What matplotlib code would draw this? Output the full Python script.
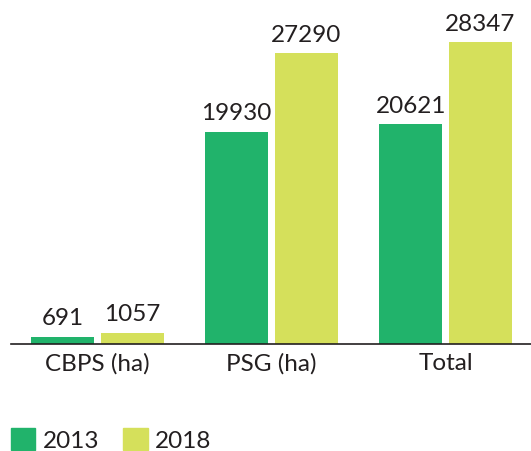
import matplotlib.pyplot as plt
import numpy as np
from matplotlib.patches import Patch

plt.rcParams['font.family'] = ['Lato', 'DejaVu Sans']

categories = ['CBPS (ha)', 'PSG (ha)', 'Total']
years = ['2013', '2018']
values_2013 = [691, 19930, 20621]
values_2018 = [1057, 27290, 28347]
colors = ['#21B36B', '#D5E05B']
text_color = '#231F20'

fig = plt.figure(figsize=(5.31, 4.52), dpi=100)
ax = fig.add_axes([11 / 531, 107 / 452, 520 / 531, 345 / 452])

x = np.arange(len(categories))
w = 0.362
off = 0.2
b1 = ax.bar(x - off, values_2013, w, color=colors[0])
b2 = ax.bar(x + off, values_2018, w, color=colors[1])

for bars in (b1, b2):
    ax.bar_label(bars, labels=[str(v) for v in bars.datavalues], padding=6,
                 fontsize=17.5, color=text_color)

ax.set_xlim(-0.497, 2.491)
ax.set_ylim(0, 32400)
ax.set_xticks(x)
ax.set_xticklabels(categories, fontsize=17.5, color=text_color)
ax.tick_params(axis='x', length=0, pad=6)
ax.set_yticks([])
for s in ['top', 'right', 'left']:
    ax.spines[s].set_visible(False)
ax.spines['bottom'].set_color(text_color)
ax.spines['bottom'].set_linewidth(1.2)

handles = [Patch(color=c) for c in colors]
fig.legend(handles, years, loc='lower left', bbox_to_anchor=(11 / 531, 0.0),
           ncol=2, frameon=False, fontsize=17.5, labelcolor=text_color,
           handlelength=1.0, handleheight=1.0, handletextpad=0.3,
           columnspacing=1.0, borderaxespad=0, borderpad=0)

fig.savefig('out.png', dpi=100)
